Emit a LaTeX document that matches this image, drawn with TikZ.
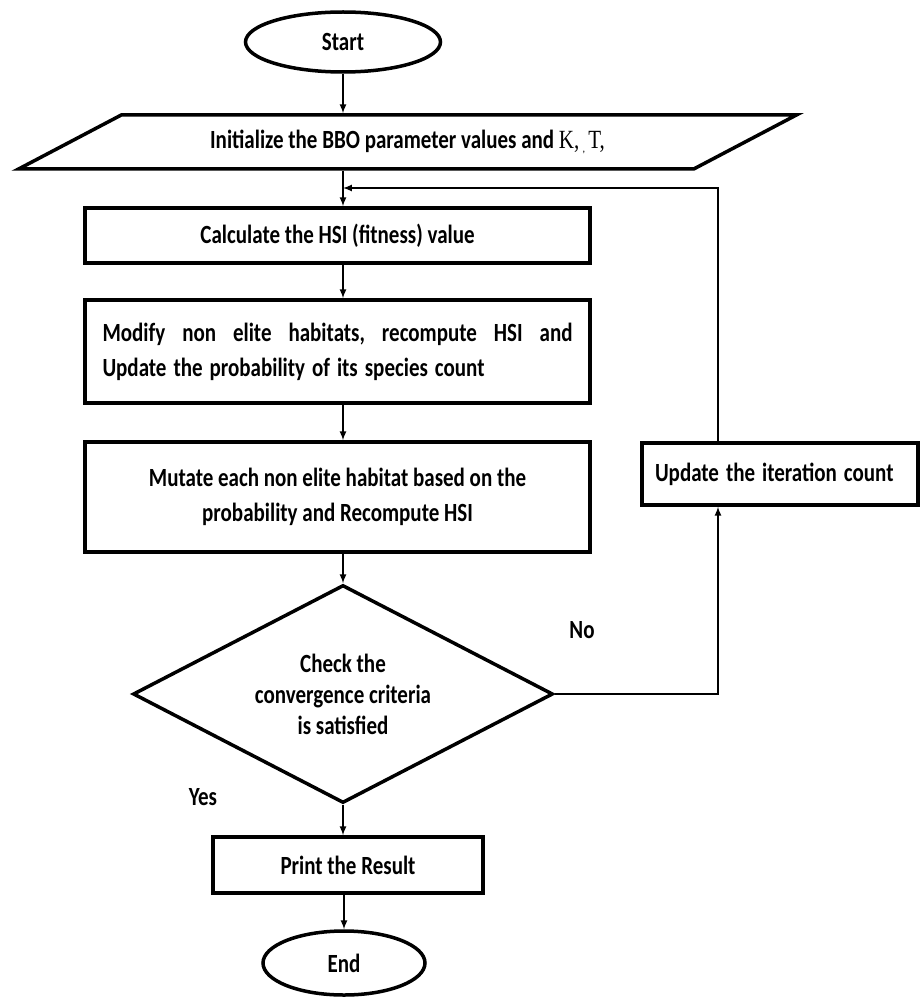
\documentclass[tikz,border=0pt]{standalone}
\usepackage{fontspec}
\usepackage{graphicx}
\setmainfont{Carlito}
\newfontfamily\serifK{Liberation Serif}
\newcommand{\tallt}[1]{\scalebox{1}[1.25]{#1}}
\usetikzlibrary{shapes, arrows, shapes.geometric}

\begin{document}
\begin{tikzpicture}[x=1pt,y=-1pt]
            \tikzstyle{every node}=[font=\fontsize{21}{31}\selectfont\bfseries]
            \tikzstyle{terminal}=[ellipse, draw, line width=3.5pt, inner sep=0pt]
            \tikzstyle{io}=[trapezium, trapezium left angle=18.4, trapezium right angle=161.6, trapezium stretches=true, draw, line width=3.5pt, inner sep=0pt]
            \tikzstyle{process}=[rectangle, draw, line width=3.5pt, inner sep=0pt, align=center]
            \tikzstyle{decision}=[diamond, aspect=2, draw, line width=3.5pt, inner sep=0pt, align=center]
            \tikzstyle{flow}=[draw, line width=2pt, -latex]
            \useasboundingbox (0,0) rectangle (921,1000);
            % main column
            \node[terminal, minimum width=195pt, minimum height=60pt] (start) at (343,42) {\tallt{Start}};
            \node[io, minimum width=779pt, minimum height=54pt] (init) at (407.5,142) {\tallt{Initialize the BBO parameter values and {\serifK\mdseries K,}\,\raisebox{-3pt}{\footnotesize ,}\,{\serifK\mdseries T,}}};
            \node[process, minimum width=505pt, minimum height=55pt] (hsi) at (337.5,235.5) {\tallt{Calculate the HSI (fitness) value}};
            \node[process, minimum width=505pt, minimum height=103pt, text width=470pt, align=left] (modify) at (337.5,351.5) {\tallt{\hbox to 470pt{Modify\hfill non\hfill elite\hfill habitats,\hfill recompute\hfill HSI\hfill and}}\\[4pt]\tallt{Update the probability of its species count}};
            \node[process, minimum width=505pt, minimum height=110pt] (mutate) at (337.5,497) {\tallt{Mutate each non elite habitat based on the}\\[4pt]\tallt{probability and Recompute HSI}};
            \node[decision, minimum width=420pt, minimum height=218pt] (check) at (343,694) {\tallt{Check the}\\\tallt{convergence criteria}\\\tallt{is satisfied}};
            \node[process, minimum width=270pt, minimum height=56pt] (print) at (348,865) {\tallt{Print the Result}};
            \node[terminal, minimum width=162pt, minimum height=64pt] (end) at (344,963) {\tallt{End}};
            % loop back
            \node[process, minimum width=276pt, minimum height=62pt, text width=250pt, align=left] (update) at (780,474) {\tallt{Update the iteration count}};
            \coordinate (bend) at (718,188);
            \node (no) at (582,630) {\tallt{No}};
            \node (yes) at (203,797) {\tallt{Yes}};
            % connectors
            \draw[flow] (start) -- (start |- init.north);
            \draw[flow] (init.south -| start) -- (hsi.north -| start);
            \draw[flow] (hsi.south -| start) -- (modify.north -| start);
            \draw[flow] (modify.south -| start) -- (mutate.north -| start);
            \draw[flow] (mutate.south -| start) -- (check.north);
            \draw[flow] (check.south) -- (print.north -| check.south);
            \draw[flow] (print.south -| end) -- (end);
            \draw[flow] (check.east) -| (bend |- update.south);
            \draw[flow] (bend |- update.north) -- (bend) -- (bend -| start);
\end{tikzpicture}
\end{document}
